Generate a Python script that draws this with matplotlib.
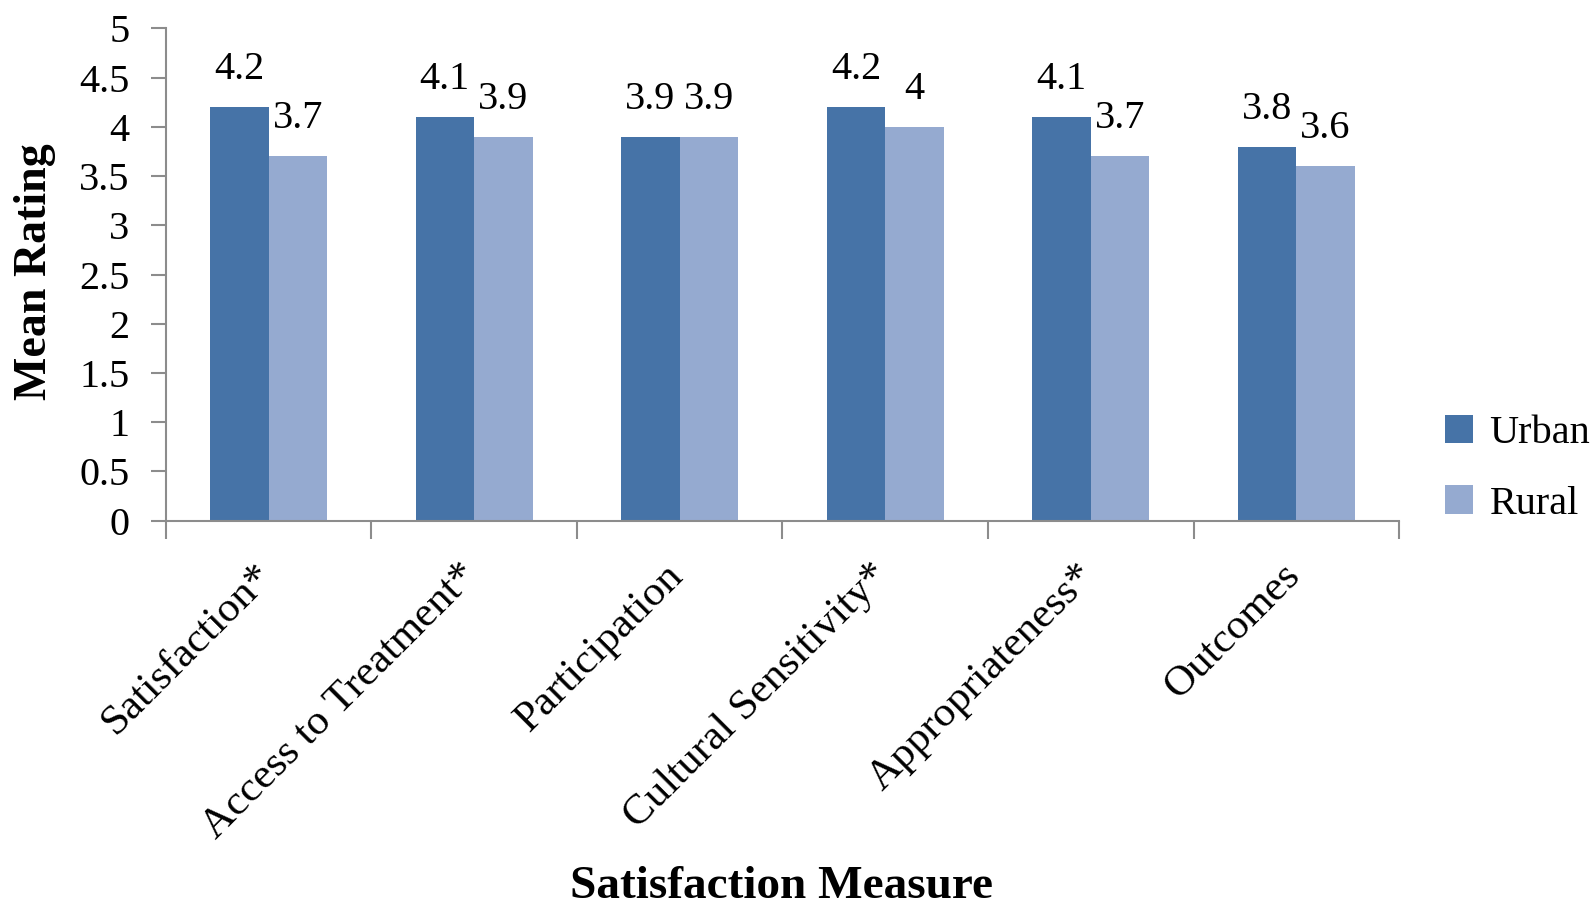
import matplotlib
matplotlib.use("Agg")
import matplotlib.pyplot as plt
import numpy as np

categories = ["Satisfaction*", "Access to Treatment*", "Participation",
              "Cultural Sensitivity*", "Appropriateness*", "Outcomes"]
urban = [4.2, 4.1, 3.9, 4.2, 4.1, 3.8]
rural = [3.7, 3.9, 3.9, 4.0, 3.7, 3.6]
series_names = ["Urban", "Rural"]
yticks = [0, 0.5, 1, 1.5, 2, 2.5, 3, 3.5, 4, 4.5, 5]
ytick_labels = ["0", "0.5", "1", "1.5", "2", "2.5", "3", "3.5", "4", "4.5", "5"]

plt.rcParams["font.family"] = ["Liberation Serif", "DejaVu Serif"]

urban_color = "#4673A7"
rural_color = "#95AAD0"
axis_color = "#8C8C8C"

fig = plt.figure(figsize=(15.94, 9.07), dpi=100)
ax = fig.add_axes([0.104, 0.4261, 0.7737, 0.5425])

x = np.arange(len(categories))
w = 0.285
b1 = ax.bar(x - w / 2, urban, w, color=urban_color, label=series_names[0])
b2 = ax.bar(x + w / 2, rural, w, color=rural_color, label=series_names[1])

def fmt(v):
    return f"{v:g}"

for bars, vals in ((b1, urban), (b2, rural)):
    for rect, v in zip(bars, vals):
        ax.annotate(fmt(v), (rect.get_x() + rect.get_width() / 2, v),
                    xytext=(0, 27), textcoords="offset points",
                    ha="center", va="center", fontsize=29)

ax.set_xlim(-0.5, len(categories) - 0.5)
ax.set_ylim(0, 5)
ax.set_yticks(yticks)
ax.set_yticklabels(ytick_labels, fontsize=29)
ax.tick_params(axis="y", direction="out", length=11, width=1.5,
               color=axis_color, pad=15)

# category boundaries carry the x ticks, labels sit at the centres
ax.set_xticks(np.arange(len(categories) + 1) - 0.5)
ax.set_xticklabels([])
ax.tick_params(axis="x", direction="out", length=13, width=1.5,
               color=axis_color)
for xi, name in zip(x, categories):
    ax.text(xi - 0.01, -0.5, name, rotation=45, rotation_mode="anchor",
            ha="right", va="center", fontsize=31)

for side in ("top", "right"):
    ax.spines[side].set_visible(False)
for side in ("left", "bottom"):
    ax.spines[side].set_color(axis_color)
    ax.spines[side].set_linewidth(1.5)

fig.text(0.022, 0.70, "Mean Rating", rotation=90, ha="center", va="center",
         fontsize=33, fontweight="bold")
fig.text(0.4905, 0.022, "Satisfaction Measure", ha="center", va="center",
         fontsize=34, fontweight="bold")

leg = ax.legend(loc="center left", bbox_to_anchor=(1.008, 0.105),
                frameon=False, fontsize=29, handlelength=0.7,
                handleheight=0.7, handletextpad=0.4, labelspacing=0.82)

fig.savefig("out.png", dpi=100, facecolor="white")
